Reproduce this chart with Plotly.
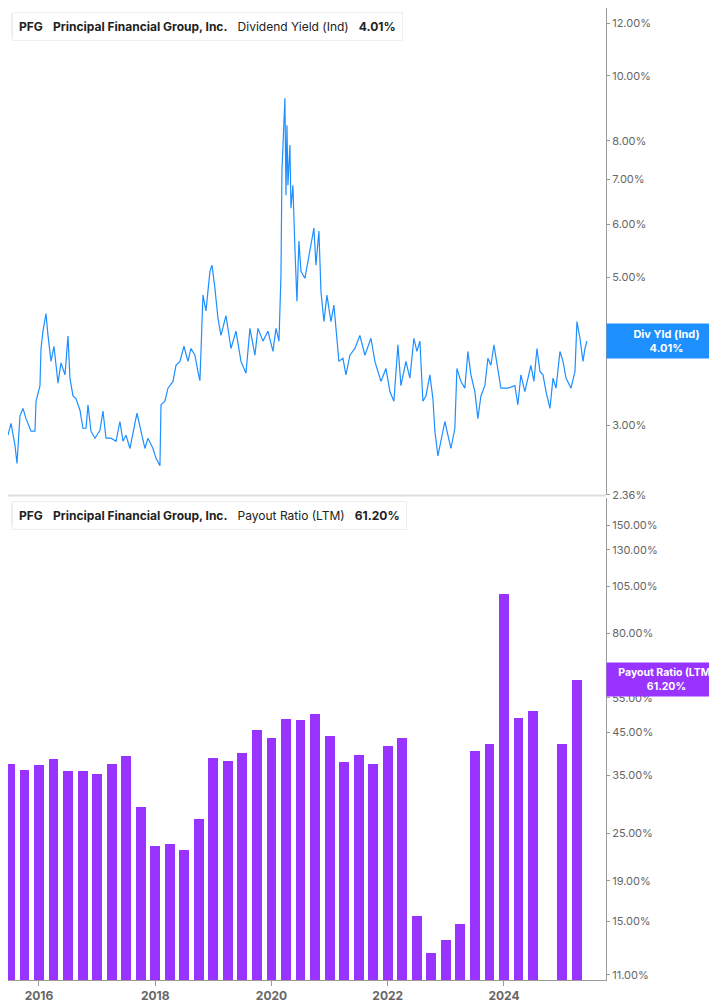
import plotly.graph_objects as go
import math

# Dividend yield (%), decimal-year dates
yld_dates = [2015.467,2015.519,2015.587,2015.622,2015.673,2015.725,2015.777,2015.863,2015.931,2015.949,
2016.017,2016.035,2016.069,2016.121,2016.155,2016.207,2016.258,2016.327,2016.379,2016.447,2016.499,2016.533,
2016.585,2016.637,2016.705,2016.757,2016.809,2016.843,2016.895,2016.963,2017.049,2017.101,2017.153,2017.239,
2017.325,2017.393,2017.445,2017.497,2017.565,2017.651,2017.686,2017.755,2017.823,2017.875,2017.961,2018.013,
2018.081,2018.099,2018.167,2018.219,2018.305,2018.357,2018.425,2018.494,2018.563,2018.615,2018.683,2018.735,
2018.769,2018.787,2018.821,2018.873,2018.941,2018.976,2019.027,2019.079,2019.131,2019.217,2019.303,2019.389,
2019.475,2019.561,2019.629,2019.715,2019.767,2019.853,2019.939,2020.025,2020.077,2020.129,2020.163,2020.180,
2020.231,2020.249,2020.266,2020.283,2020.317,2020.335,2020.369,2020.403,2020.438,2020.472,2020.507,2020.575,
2020.627,2020.679,2020.730,2020.765,2020.816,2020.851,2020.902,2020.954,2021.023,2021.074,2021.109,2021.160,
2021.229,2021.281,2021.349,2021.435,2021.521,2021.607,2021.711,2021.779,2021.883,2021.969,2022.037,2022.106,
2022.175,2022.227,2022.313,2022.381,2022.450,2022.502,2022.553,2022.605,2022.657,2022.725,2022.777,2022.811,
2022.863,2022.915,2022.983,2023.035,2023.087,2023.155,2023.190,2023.259,2023.327,2023.379,2023.431,2023.499,
2023.551,2023.603,2023.671,2023.723,2023.775,2023.827,2023.879,2023.947,2024.067,2024.187,2024.239,2024.291,
2024.359,2024.411,2024.463,2024.515,2024.567,2024.619,2024.671,2024.723,2024.791,2024.843,2024.895,2024.963,
2025.015,2025.067,2025.153,2025.221,2025.255,2025.307,2025.359,2025.393,2025.427]
yld_values = [2.90,3.02,2.80,2.63,3.10,3.18,3.07,2.94,2.94,3.26,
3.44,3.91,4.15,4.41,4.09,3.74,3.94,3.47,3.72,3.57,4.08,3.53,
3.32,3.29,3.16,2.97,2.97,3.22,2.94,2.87,2.95,3.15,2.87,2.87,
2.84,3.04,2.84,2.90,2.77,3.00,3.13,2.94,2.77,2.87,2.77,2.68,
2.61,3.22,3.26,3.41,3.49,3.69,3.74,3.94,3.74,3.91,3.82,3.61,
3.50,3.87,4.70,4.45,5.10,5.21,4.81,4.34,4.09,4.38,3.91,4.15,
3.74,3.59,4.19,3.82,4.19,4.01,4.15,3.87,4.19,4.01,5.03,7.21,
9.26,6.63,8.44,6.86,7.88,6.34,6.86,5.52,4.60,5.66,5.10,4.98,
5.28,5.52,5.92,5.21,5.86,4.76,4.29,4.70,4.29,4.54,4.15,3.74,
3.78,3.57,3.82,3.91,4.09,3.82,4.05,3.74,3.49,3.65,3.37,3.26,
3.96,3.44,3.74,3.53,4.05,3.87,4.01,3.26,3.32,3.57,3.29,2.94,
2.70,2.84,3.04,2.90,2.77,2.97,3.65,3.49,3.41,3.87,3.57,3.37,
3.07,3.32,3.44,3.78,3.69,3.96,3.69,3.41,3.41,3.44,3.22,3.57,
3.37,3.53,3.69,3.49,3.91,3.61,3.57,3.37,3.18,3.53,3.41,3.87,
3.74,3.53,3.41,3.61,4.29,4.05,3.74,3.91,4.01]

# Payout ratio (LTM, %), quarterly
payout_dates = [2015.5 + 0.25*i for i in range(40)]
payout_values = [37.4,36.2,37.2,38.5,35.9,36.0,35.3,37.4,39.3,29.2,
23.3,23.6,22.8,27.2,38.8,38.2,40.0,45.7,43.6,48.6,
48.4,50.1,44.2,37.9,39.4,37.5,41.5,43.7,15.5,12.5,
13.5,14.8,40.4,42.2,100.3,48.9,51.0,None,42.1,61.2]

yld_ticks = [12, 10, 8, 7, 6, 5, 3, 2.36]
payout_ticks = [150, 130, 105, 80, 55, 45, 35, 25, 19, 15, 11]
year_ticks = [2016, 2018, 2020, 2022, 2024]

BLUE = "#1E8FFF"
PURPLE = "#9933FF"
AX = "#9a9a9a"
TXT = "#666666"
FONT = "Inter"

fig = go.Figure()
fig.add_trace(go.Scatter(x=yld_dates, y=yld_values, mode="lines",
                         line=dict(color=BLUE, width=1.2), xaxis="x", yaxis="y"))
fig.add_trace(go.Bar(x=payout_dates, y=payout_values, width=0.17,
                     marker=dict(color=PURPLE, line=dict(width=0)), xaxis="x2", yaxis="y2"))

xr = [2015.467, 2025.755]
fig.update_layout(
    width=717, height=1005, margin=dict(l=0, r=119, t=0, b=33, autoexpand=False),
    paper_bgcolor="white", plot_bgcolor="white", showlegend=False,
    font=dict(family=FONT, color=TXT, size=11),
    xaxis=dict(domain=[0, 1], range=xr, anchor="y", showticklabels=False, showgrid=False,
               zeroline=False, showline=False),
    yaxis=dict(domain=[0.499, 1], type="log", range=[math.log10(2.36), math.log10(12.64)],
               side="right", tickvals=yld_ticks, ticktext=[f"{v:.2f}%" for v in yld_ticks],
               showgrid=False, zeroline=False, showline=True, linecolor=AX, linewidth=1,
               ticks="outside", ticklen=3, tickcolor=AX, tickfont=dict(size=11, color=TXT)),
    xaxis2=dict(domain=[0, 1], range=xr, anchor="y2", tickvals=year_ticks,
                ticktext=[f"<b>{y}</b>" for y in year_ticks], showgrid=False, zeroline=False,
                showline=True, linecolor=AX, linewidth=1, ticks="outside", ticklen=5,
                tickcolor=AX, tickfont=dict(size=12, color=TXT, family=FONT)),
    yaxis2=dict(domain=[0, 0.496], type="log", range=[math.log10(10.68), math.log10(175.6)],
                side="right", anchor="x2", tickvals=payout_ticks,
                ticktext=[f"{v:.2f}%" for v in payout_ticks],
                showgrid=False, zeroline=False, showline=True, linecolor=AX, linewidth=1,
                ticks="outside", ticklen=3, tickcolor=AX, tickfont=dict(size=11, color=TXT)),
    bargap=0,
)

# separator line between panels
fig.add_shape(type="line", xref="paper", yref="paper", x0=0, x1=1, y0=0.4985, y1=0.4985,
              line=dict(color="#dddddd", width=2))

# legend boxes
def legend_box(ytop, color, label, value):
    fig.add_annotation(xref="paper", yref="paper", x=0.0, y=ytop, xanchor="left", yanchor="top",
                       text=f"<b>PFG</b>   <b>Principal Financial Group, Inc.</b>   {label}   <b>{value}</b>",
                       showarrow=False, font=dict(family=FONT, size=12, color="#222222"),
                       bgcolor="white", bordercolor="#eeeeee", borderwidth=1, borderpad=6, xshift=4)
    fig.add_shape(type="rect", xref="paper", yref="paper", x0=0.0065, x1=0.011,
                  y0=ytop - 0.0255, y1=ytop - 0.0015, fillcolor=color, line=dict(width=0))

legend_box(0.9955, BLUE, "Dividend Yield (Ind)", "4.01%")
legend_box(0.4925, PURPLE, "Payout Ratio (LTM)", "61.20%")

# value badges on the right axis
fig.add_annotation(xref="paper", yref="y", x=1.0, y=math.log10(yld_values[-1]), xanchor="left",
                   text="<b>Div Yld (Ind)</b><br><b>4.01%</b>", showarrow=False, align="center",
                   font=dict(family=FONT, size=11, color="white"), bgcolor=BLUE,
                   borderpad=3, width=113)
fig.add_annotation(xref="paper", yref="y2", x=1.0, y=math.log10(payout_values[-1]), xanchor="left",
                   text="<b>Payout Ratio (LTM)</b><br><b>61.20%</b>", showarrow=False, align="center",
                   font=dict(family=FONT, size=10.5, color="white"), bgcolor=PURPLE,
                   borderpad=3, width=113)

fig.write_html("out.html")
